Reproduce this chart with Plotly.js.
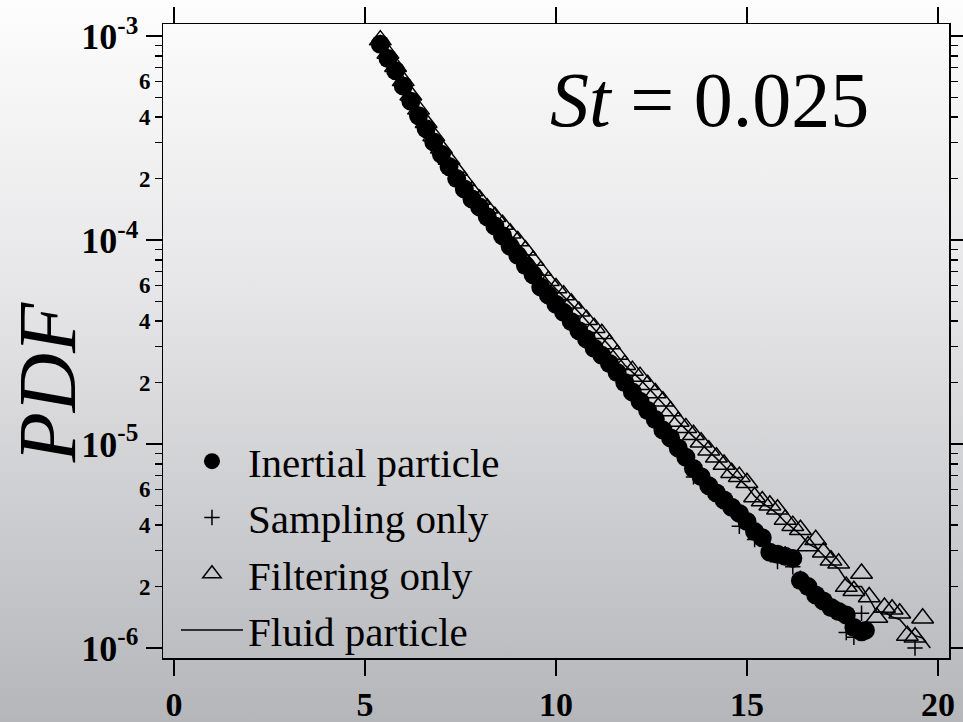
<!DOCTYPE html>
<html>
<head>
<meta charset="utf-8">
<script src="https://cdn.plot.ly/plotly-3.0.1.min.js"></script>
<style>
  html, body { margin: 0; padding: 0; }
  #chart { width: 963px; height: 722px; background: linear-gradient(to bottom, #fdfdfd 0%, #e6e6e8 40%, #b5b6ba 100%); }
</style>
</head>
<body>
<div id="chart"></div>
<script>
// ---- Data ----
var inertialX = [5.4,5.6,5.8,6.0,6.2,6.4,6.6,6.8,7.0,7.2,7.4,7.6,7.8,8.0,8.2,8.4,8.6,8.8,9.0,9.2,9.4,9.6,9.8,10.0,10.2,10.4,10.6,10.8,11.0,11.2,11.4,11.6,11.8,12.0,12.2,12.4,12.6,12.8,13.0,13.2,13.4,13.6,13.8,14.0,14.2,14.4,14.6,14.8,15.0,15.2,15.4,15.6,15.8,16.0,16.2,16.4,16.6,16.8,17.0,17.2,17.4,17.6,17.8,18.0,18.1];
var inertialY = [9.12e-4,7.76e-4,6.76e-4,5.69e-4,4.79e-4,4.07e-4,3.51e-4,3.02e-4,2.63e-4,2.29e-4,2.00e-4,1.78e-4,1.59e-4,1.45e-4,1.30e-4,1.17e-4,1.05e-4,9.33e-5,8.41e-5,7.50e-5,6.76e-5,5.89e-5,5.37e-5,4.84e-5,4.42e-5,3.98e-5,3.59e-5,3.27e-5,2.95e-5,2.72e-5,2.48e-5,2.24e-5,2.00e-5,1.80e-5,1.62e-5,1.46e-5,1.32e-5,1.17e-5,1.07e-5,9.55e-6,8.61e-6,7.59e-6,6.92e-6,6.24e-6,5.75e-6,5.31e-6,4.90e-6,4.57e-6,4.17e-6,3.72e-6,3.47e-6,2.95e-6,2.88e-6,2.82e-6,2.75e-6,2.14e-6,2.00e-6,1.82e-6,1.70e-6,1.58e-6,1.51e-6,1.45e-6,1.26e-6,1.20e-6,1.22e-6];

var samplingX = [5.4,5.6,5.8,6.0,6.2,6.4,6.6,6.8,7.0,7.2,7.4,7.6,7.8,8.0,8.2,8.4,8.6,8.8,9.0,9.2,9.4,9.6,9.8,10.0,10.2,10.4,10.6,10.8,11.0,11.2,11.4,11.6,11.8,12.0,12.2,12.4,12.6,12.8,13.0,13.2,13.4,13.6,13.8,14.0,14.2,14.4,14.6,14.8,15.0,15.2,15.4,15.6,15.8,16.0,16.2,16.4,16.6,16.8,17.0,17.2,17.4,17.6,17.8,18.0,19.4];
var samplingY = [9.3e-4,7.9e-4,6.9e-4,5.85e-4,4.9e-4,4.2e-4,3.6e-4,3.1e-4,2.7e-4,2.36e-4,2.06e-4,1.83e-4,1.63e-4,1.49e-4,1.34e-4,1.21e-4,1.09e-4,9.7e-5,8.7e-5,7.8e-5,7.0e-5,6.15e-5,5.6e-5,5.05e-5,4.6e-5,4.15e-5,3.75e-5,3.42e-5,3.08e-5,2.84e-5,2.6e-5,2.33e-5,2.1e-5,1.88e-5,1.7e-5,1.53e-5,1.38e-5,1.24e-5,1.12e-5,1.0e-5,9.0e-6,6.9e-6,7.1e-6,6.5e-6,6.0e-6,5.5e-6,5.1e-6,3.95e-6,4.3e-6,3.4e-6,3.6e-6,3.05e-6,2.65e-6,2.9e-6,2.5e-6,2.2e-6,2.05e-6,1.88e-6,1.75e-6,1.62e-6,1.55e-6,1.19e-6,1.13e-6,1.48e-6,1.0e-6];

var filteringX = [5.4,5.6,5.8,6.0,6.2,6.4,6.6,6.8,7.0,7.2,7.4,7.6,7.8,8.0,8.2,8.4,8.6,8.8,9.0,9.2,9.4,9.6,9.8,10.0,10.2,10.4,10.6,10.8,11.0,11.2,11.4,11.6,11.8,12.0,12.2,12.4,12.6,12.8,13.0,13.2,13.4,13.6,13.8,14.0,14.2,14.4,14.6,14.8,15.0,15.2,15.4,15.6,15.8,16.0,16.2,16.4,16.6,16.8,17.0,17.2,17.4,17.6,17.8,18.0,18.2,18.4,18.6,18.8,19.0,19.2,19.4,19.6];
var filteringY = [9.55e-4,8.22e-4,7.08e-4,6.03e-4,5.13e-4,4.37e-4,3.76e-4,3.24e-4,2.82e-4,2.48e-4,2.19e-4,1.95e-4,1.74e-4,1.58e-4,1.43e-4,1.30e-4,1.19e-4,1.08e-4,9.89e-5,8.91e-5,7.94e-5,7.08e-5,6.31e-5,5.82e-5,5.37e-5,4.90e-5,4.47e-5,4.07e-5,3.72e-5,3.47e-5,3.09e-5,2.75e-5,2.45e-5,2.29e-5,2.14e-5,1.95e-5,1.78e-5,1.62e-5,1.45e-5,1.29e-5,1.20e-5,1.11e-5,1.02e-5,9.33e-6,8.61e-6,7.94e-6,7.24e-6,6.92e-6,6.46e-6,5.50e-6,5.25e-6,5.01e-6,4.79e-6,4.27e-6,3.98e-6,3.80e-6,3.16e-6,3.39e-6,2.95e-6,2.69e-6,2.60e-6,2.00e-6,1.91e-6,2.32e-6,1.78e-6,1.41e-6,1.58e-6,1.55e-6,1.48e-6,1.15e-6,1.13e-6,1.40e-6];

var fluidX = [5.4,5.6,5.8,6.0,6.2,6.4,6.6,6.8,7.0,7.2,7.4,7.6,7.8,8.0,8.2,8.4,8.6,8.8,9.0,9.2,9.4,9.6,9.8,10.0,10.2,10.4,10.6,10.8,11.0,11.2,11.4,11.6,11.8,12.0,12.2,12.4,12.6,12.8,13.0,13.2,13.4,13.6,13.8,14.0,14.2,14.4,14.6,14.8,15.0,15.2,15.4,15.6,15.8,16.0,16.2,16.4,16.6,16.8,17.0,17.2,17.4,17.6,17.8,18.0,18.2,18.4,18.6,18.8,19.0,19.2,19.4,19.6,19.8];
var fluidY = [9.5e-4,8.2e-4,7.05e-4,6.0e-4,5.1e-4,4.35e-4,3.75e-4,3.22e-4,2.8e-4,2.46e-4,2.17e-4,1.93e-4,1.72e-4,1.56e-4,1.41e-4,1.28e-4,1.17e-4,1.06e-4,9.7e-5,8.8e-5,7.9e-5,7.05e-5,6.3e-5,5.75e-5,5.3e-5,4.85e-5,4.42e-5,4.02e-5,3.66e-5,3.36e-5,3.03e-5,2.72e-5,2.44e-5,2.25e-5,2.08e-5,1.9e-5,1.74e-5,1.58e-5,1.43e-5,1.29e-5,1.18e-5,1.09e-5,1.0e-5,9.2e-6,8.5e-6,7.8e-6,7.1e-6,6.7e-6,6.2e-6,5.55e-6,5.15e-6,4.85e-6,4.55e-6,4.15e-6,3.85e-6,3.6e-6,3.25e-6,3.1e-6,2.85e-6,2.6e-6,2.45e-6,2.15e-6,2.0e-6,2.0e-6,1.75e-6,1.5e-6,1.5e-6,1.42e-6,1.38e-6,1.25e-6,1.15e-6,1.12e-6,1.0e-6];

var seriesNames = ['Inertial particle', 'Sampling only', 'Filtering only', 'Fluid particle'];

var xTickVals = [0, 5, 10, 15, 20];
var yDecadeVals = [1e-6, 1e-5, 1e-4, 1e-3];
var yDecadeText = ['10<sup>-6</sup>', '10<sup>-5</sup>', '10<sup>-4</sup>', '10<sup>-3</sup>'];
// minor ticks 2..9 of each decade; only 2, 4 and 6 carry a label
var yMinorVals = [2e-6,3e-6,4e-6,5e-6,6e-6,7e-6,8e-6,9e-6, 2e-5,3e-5,4e-5,5e-5,6e-5,7e-5,8e-5,9e-5, 2e-4,3e-4,4e-4,5e-4,6e-4,7e-4,8e-4,9e-4];
var yMinorText = ['2','','4','','6','','','', '2','','4','','6','','','', '2','','4','','6','','',''];

var annoText = '<i>St</i> = 0.025';
var yTitleText = '<i>PDF</i>';

// ---- Chart ----
var serif = 'Liberation Serif, Times New Roman, serif';
var traces = [
  { x: inertialX, y: inertialY, name: seriesNames[0], type: 'scatter', mode: 'markers',
    marker: { symbol: 'circle', size: 19, color: 'black' } },
  { x: samplingX, y: samplingY, name: seriesNames[1], type: 'scatter', mode: 'markers',
    marker: { symbol: 'cross-thin', size: 11, color: 'black', line: { color: 'black', width: 1.5 } } },
  { x: filteringX, y: filteringY, name: seriesNames[2], type: 'scatter', mode: 'markers', yaxis: 'y3',
    marker: { symbol: 'triangle-up-open', size: 19, color: 'black', line: { color: 'black', width: 1.5 } } },
  { x: fluidX, y: fluidY, name: seriesNames[3], type: 'scatter', mode: 'lines', yaxis: 'y2',
    line: { color: 'black', width: 1.5 } }
];

var yRange = [-6.049, -2.941];
var layout = {
  width: 963, height: 722,
  margin: { l: 163, r: 14, t: 24, b: 64, pad: 0 },
  paper_bgcolor: 'rgba(0,0,0,0)',
  plot_bgcolor: 'rgba(0,0,0,0)',
  showlegend: true,
  xaxis: {
    range: [-0.29, 20.29], tickmode: 'array', tickvals: xTickVals, ticktext: xTickVals.map(String),
    ticks: 'outside', ticklen: 16, tickwidth: 1.5, tickcolor: 'black',
    showline: true, linewidth: 1.5, linecolor: 'black', mirror: 'ticks',
    showgrid: false, zeroline: false,
    tickfont: { family: serif, size: 34, color: 'black', weight: 'bold' }
  },
  yaxis: {
    type: 'log', range: yRange, tickmode: 'array', tickvals: yDecadeVals, ticktext: yDecadeText,
    ticks: 'outside', ticklen: 16, tickwidth: 1.5, tickcolor: 'black',
    showline: true, linewidth: 1.5, linecolor: 'black', mirror: 'ticks',
    showgrid: false, zeroline: false,
    tickfont: { family: serif, size: 36, color: 'black', weight: 'bold' }
  },
  yaxis2: {
    type: 'log', range: yRange, overlaying: 'y', side: 'left', anchor: 'x',
    tickmode: 'array', tickvals: yMinorVals, ticktext: yMinorText,
    ticks: 'outside', ticklen: 7, tickwidth: 1.5, tickcolor: 'black',
    showline: false, showgrid: false, zeroline: false,
    tickfont: { family: serif, size: 23, color: 'black', weight: 'bold' }
  },
  yaxis3: {
    type: 'log', range: yRange, overlaying: 'y', side: 'right', anchor: 'x',
    tickmode: 'array', tickvals: yMinorVals, showticklabels: false,
    ticks: 'outside', ticklen: 8, tickwidth: 1.5, tickcolor: 'black',
    showline: false, showgrid: false, zeroline: false
  },
  legend: {
    x: 0.0165, y: -0.0095, xanchor: 'left', yanchor: 'bottom',
    bgcolor: 'rgba(0,0,0,0)', borderwidth: 0, itemwidth: 62,
    font: { family: serif, size: 41, color: 'black' }
  },
  annotations: [
    { text: annoText, xref: 'paper', yref: 'paper', x: 0.695, y: 0.881, xanchor: 'center', yanchor: 'middle',
      showarrow: false, font: { family: serif, size: 78, color: 'black' } },
    { text: yTitleText, xref: 'paper', yref: 'paper', x: -0.147, y: 0.434, xanchor: 'center', yanchor: 'middle',
      textangle: -90, showarrow: false, font: { family: serif, size: 82, color: 'black' } }
  ]
};

Plotly.newPlot('chart', traces, layout, { displayModeBar: false, staticPlot: true });
</script>
</body>
</html>
